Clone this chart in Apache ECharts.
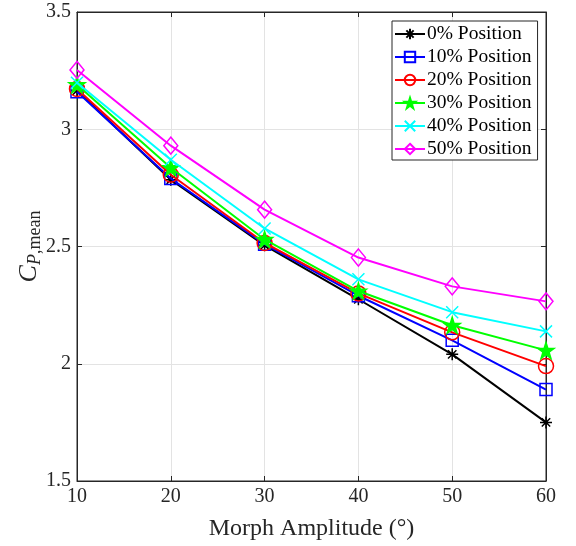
<!DOCTYPE html>
<html>
<head>
<meta charset="utf-8">
<script src="https://cdn.jsdelivr.net/npm/echarts@6/dist/echarts.min.js"></script>
<style>html,body{margin:0;padding:0;background:#fff;}#c{width:576px;height:546px;}</style>
</head>
<body>
<div id="c"></div>
<script>
const amplitudes = [10, 20, 30, 40, 50, 60];
const seriesNames = ['0% Position', '10% Position', '20% Position', '30% Position', '40% Position', '50% Position'];
const pos0  = [3.165, 2.785, 2.505, 2.275, 2.04, 1.75];
const pos10 = [3.16, 2.79, 2.51, 2.29, 2.10, 1.89];
const pos20 = [3.172, 2.806, 2.515, 2.30, 2.134, 1.99];
const pos30 = [3.19, 2.836, 2.53, 2.31, 2.164, 2.057];
const pos40 = [3.198, 2.87, 2.577, 2.36, 2.22, 2.138];
const pos50 = [3.253, 2.93, 2.657, 2.453, 2.33, 2.266];
const yTicks = [1.5, 2, 2.5, 3, 3.5];

const allValues = [pos0, pos10, pos20, pos30, pos40, pos50];
const colors = ['#000000', '#0000ff', '#ff0000', '#00ff00', '#00ffff', '#ff00ff'];
const FONT = 'Liberation Serif';

const asterisk = 'path://M0 -10 L0 10 M-10 0 L10 0 M-7 -7 L7 7 M-7 7 L7 -7';
const cross = 'path://M-7 -7 L7 7 M-7 7 L7 -7';
const star = 'path://M0 -10 L2.245 -3.09 L9.51 -3.09 L3.633 1.18 L5.88 8.09 L0 3.82 L-5.88 8.09 L-3.633 1.18 L-9.51 -3.09 L-2.245 -3.09 Z';
const symbols = [asterisk, 'rect', 'circle', star, cross, 'diamond'];
const sizes = [12, 12, 15, 16, 12, [14, 17]];
const fills = ['transparent', 'transparent', 'transparent', '#00ff00', 'transparent', 'transparent'];

const chart = echarts.init(document.getElementById('c'), null, {renderer: 'canvas'});

const series = seriesNames.map((name, i) => ({
  name: name,
  type: 'line',
  xAxisIndex: 0,
  yAxisIndex: 0,
  data: amplitudes.map((a, j) => [a, allValues[i][j]]),
  symbol: symbols[i],
  symbolSize: sizes[i],
  showAllSymbol: true,
  lineStyle: {color: colors[i], width: 2},
  itemStyle: {color: fills[i], borderColor: colors[i], borderWidth: 1.5},
  emphasis: {disabled: true},
  animation: false,
  z: 2 + i
}));

const axisLineStyle = {lineStyle: {color: '#262626', width: 1}};

chart.setOption({
  backgroundColor: '#ffffff',
  animation: false,
  grid: {left: 77, right: 30, top: 12, bottom: 64, show: true, borderColor: '#262626', borderWidth: 1, containLabel: false},
  legend: {
    orient: 'vertical',
    left: 392,
    top: 21,
    backgroundColor: '#ffffff',
    borderColor: '#262626',
    borderWidth: 1,
    borderRadius: 0,
    padding: [3, 6, 1, 2],
    itemGap: 3,
    itemWidth: 30,
    itemHeight: 13,
    textStyle: {fontFamily: FONT, fontSize: 19.5, color: '#000', padding: [0, 0, 0, -3]},
    data: seriesNames
  },
  xAxis: [{
    type: 'value', min: 10, max: 60, interval: 10,
    name: 'Morph Amplitude (°)', nameLocation: 'middle', nameGap: 36,
    nameTextStyle: {fontFamily: FONT, fontSize: 24, color: '#262626'},
    axisLine: axisLineStyle,
    axisTick: {inside: true, length: 5, lineStyle: {color: '#262626'}},
    axisLabel: {fontFamily: FONT, fontSize: 20, color: '#262626', margin: 6},
    splitLine: {show: true, lineStyle: {color: '#e3e3e3', width: 1}}
  }, {
    type: 'value', min: 10, max: 60, interval: 10, position: 'top',
    axisLine: axisLineStyle,
    axisTick: {inside: true, length: 5, lineStyle: {color: '#262626'}},
    axisLabel: {show: false}, splitLine: {show: false}
  }],
  yAxis: [{
    type: 'value', min: 1.5, max: 3.5, interval: 0.5,
    name: '{i|C}{s|P}{r|,mean}', nameLocation: 'middle', nameGap: 33, nameRotate: 90,
    nameMoveOverlap: false,
    nameTextStyle: {
      fontFamily: FONT, color: '#262626',
      rich: {
        i: {fontFamily: FONT, fontStyle: 'italic', fontSize: 26, color: '#262626'},
        s: {fontFamily: FONT, fontStyle: 'italic', fontSize: 18, color: '#262626', verticalAlign: 'bottom', padding: [12, 0, 0, 0]},
        r: {fontFamily: FONT, fontSize: 18, color: '#262626', verticalAlign: 'bottom', padding: [12, 0, 0, 0]}
      }
    },
    axisLine: axisLineStyle,
    axisTick: {inside: true, length: 5, lineStyle: {color: '#262626'}},
    axisLabel: {fontFamily: FONT, fontSize: 20, color: '#262626', margin: 6,
      formatter: v => yTicks.includes(v) ? String(v) : ''},
    splitLine: {show: true, lineStyle: {color: '#e3e3e3', width: 1}}
  }, {
    type: 'value', min: 1.5, max: 3.5, interval: 0.5, position: 'right',
    axisLine: axisLineStyle,
    axisTick: {inside: true, length: 5, lineStyle: {color: '#262626'}},
    axisLabel: {show: false}, splitLine: {show: false}
  }],
  series: series
});
</script>
</body>
</html>
